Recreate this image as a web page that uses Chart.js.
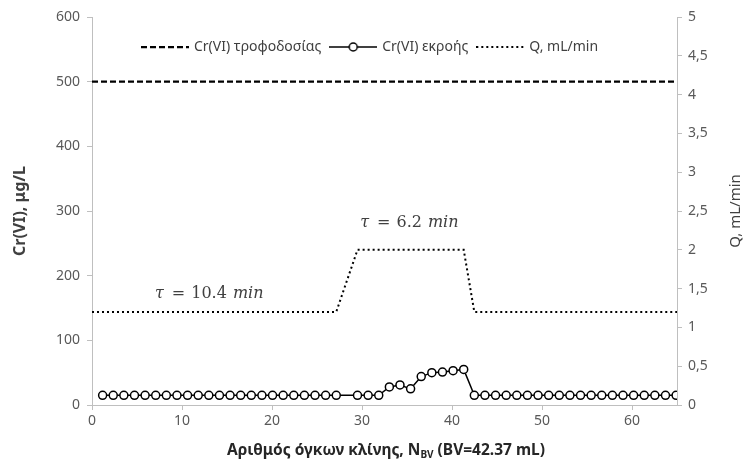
<!DOCTYPE html>
<html><head><meta charset="utf-8">
<script src="https://cdn.jsdelivr.net/npm/chart.js@4.4.1/dist/chart.umd.min.js"></script>
<style>html,body{margin:0;padding:0;background:#fff}#wrap{width:745px;height:466px}</style>
</head><body><div id="wrap"><canvas id="c" width="745" height="466"></canvas></div>
<script>
// ---- data ----
const seriesNames = ['Cr(VI) τροφοδοσίας', 'Cr(VI) εκροής', 'Q, mL/min'];
const bedVolumes = [1.18, 2.36, 3.54, 4.72, 5.90, 7.08, 8.26, 9.44, 10.62, 11.80, 12.98, 14.16, 15.34, 16.52, 17.70, 18.88, 20.06, 21.24, 22.42, 23.60, 24.78, 25.96, 27.14,
  29.50, 30.68, 31.86, 33.04, 34.22, 35.40, 36.58, 37.76, 38.94, 40.12, 41.30, 42.48, 43.66, 44.84, 46.02, 47.20, 48.38, 49.56, 50.74, 51.92, 53.10, 54.28, 55.46, 56.64, 57.82, 59.00, 60.18, 61.36, 62.54, 63.72, 64.90];
const effluentCr = [15, 15, 15, 15, 15, 15, 15, 15, 15, 15, 15, 15, 15, 15, 15, 15, 15, 15, 15, 15, 15, 15, 15,
  15, 15, 15, 28, 31, 25, 44, 50, 51, 53, 55, 15, 15, 15, 15, 15, 15, 15, 15, 15, 15, 15, 15, 15, 15, 15, 15, 15, 15, 15, 15];
const feedX = [0, 65];
const feedCr = [500, 500];
const flowX = [0, 27.14, 29.50, 41.30, 42.48, 65];
const flowQ = [1.2, 1.2, 2.0, 2.0, 1.2, 1.2];
const tauValues = ['10.4', '6.2'];
const yTitle = 'Cr(VI), μg/L';
const y1Title = 'Q, mL/min';
const xTitleParts = ['Αριθμός όγκων κλίνης, N', 'BV', ' (BV=42.37 mL)'];

// ---- styling / placement ----
const FONT = '"Noto Sans", "DejaVu Sans", sans-serif';
const tauPlacement = [{x: 7.0, q: 1.38}, {x: 29.8, q: 2.29}];

function sample(kind) {
  const c = document.createElement('canvas');
  c.width = 48; c.height = 12;
  const g = c.getContext('2d');
  g.strokeStyle = '#000';
  g.beginPath();
  if (kind === 0) { g.lineWidth = 2.25; g.setLineDash([6, 3]); }
  else if (kind === 1) { g.lineWidth = 1.5; }
  else { g.lineWidth = 2; g.setLineDash([2, 3]); }
  g.moveTo(0, 6); g.lineTo(48, 6); g.stroke();
  if (kind === 1) {
    g.setLineDash([]);
    g.beginPath(); g.arc(24, 6, 4, 0, Math.PI * 2);
    g.fillStyle = '#fff'; g.fill(); g.stroke();
  }
  return c;
}
const legendImgs = [sample(0), sample(1), sample(2)];

const annot = {
  id: 'annot',
  afterLayout(chart) {
    // keep the in-plot legend row over the plot area
    const lg = chart.legend, ca = chart.chartArea;
    if (lg && ca) { lg.left = ca.left - 14; lg.right = ca.right - 14; }
  },
  afterDraw(chart) {
    const ctx = chart.ctx, ca = chart.chartArea, xs = chart.scales.x, qs = chart.scales.y1;
    const midY = (ca.top + ca.bottom) / 2;
    ctx.save();
    ctx.textBaseline = 'middle'; ctx.textAlign = 'center';
    ctx.fillStyle = '#404040';
    ctx.font = 'bold 16px ' + FONT;
    ctx.save(); ctx.translate(20, midY); ctx.rotate(-Math.PI / 2); ctx.fillText(yTitle, 0, 0); ctx.restore();
    ctx.font = '15px ' + FONT;
    ctx.save(); ctx.translate(736, midY); ctx.rotate(-Math.PI / 2); ctx.fillText(y1Title, 0, 0); ctx.restore();

    // x title with subscript
    ctx.textAlign = 'left'; ctx.textBaseline = 'alphabetic';
    ctx.fillStyle = '#262626';
    const big = 'bold 15.5px ' + FONT, small = 'bold 10px ' + FONT;
    ctx.font = big; const w1 = ctx.measureText(xTitleParts[0]).width, w3 = ctx.measureText(xTitleParts[2]).width;
    ctx.font = small; const w2 = ctx.measureText(xTitleParts[1]).width;
    let sx = 386 - (w1 + w2 + w3) / 2;
    const by = 455;
    ctx.font = big; ctx.fillText(xTitleParts[0], sx, by);
    ctx.font = small; ctx.fillText(xTitleParts[1], sx + w1, by + 3);
    ctx.font = big; ctx.fillText(xTitleParts[2], sx + w1 + w2, by);

    // tau labels
    ctx.fillStyle = '#404040';
    const it = 'italic 16px "DejaVu Serif", serif', up = '16px "DejaVu Serif", serif';
    tauValues.forEach((v, i) => {
      const p = tauPlacement[i];
      let px = xs.getPixelForValue(p.x), py = qs.getPixelForValue(p.q);
      const parts = [['τ', it, 8], ['=', up, 6], [v, up, 6], ['min', it, 0]];
      parts.forEach(([t, f, gap]) => {
        ctx.font = f; ctx.fillText(t, px, py); px += ctx.measureText(t).width + gap;
      });
    });
    ctx.restore();
  }
};

const axisGray = '#bfbfbf';
const tickFont = {family: FONT, size: 14};

const chart = new Chart(document.getElementById('c'), {
  type: 'line',
  data: {
    datasets: [
      {label: seriesNames[0], data: feedX.map((x, i) => ({x, y: feedCr[i]})), yAxisID: 'y',
        borderColor: '#000', borderWidth: 2.25, borderDash: [6, 3], pointRadius: 0, fill: false},
      {label: seriesNames[1], data: bedVolumes.map((x, i) => ({x, y: effluentCr[i]})), yAxisID: 'y',
        borderColor: '#000', borderWidth: 1.5, pointRadius: 4, pointBorderWidth: 1.5,
        pointBackgroundColor: '#fff', pointBorderColor: '#000', fill: false},
      {label: seriesNames[2], data: flowX.map((x, i) => ({x, y: flowQ[i]})), yAxisID: 'y1',
        borderColor: '#000', borderWidth: 2, borderDash: [2, 3], pointRadius: 0, fill: false}
    ]
  },
  options: {
    responsive: false, animation: false, devicePixelRatio: 1,
    layout: {padding: {top: 17, left: 0, right: 0, bottom: 0}},
    plugins: {
      tooltip: {enabled: false},
      legend: {
        position: 'chartArea', align: 'center',
        title: {display: true, text: ' ', font: {size: 10}, padding: {top: 1, bottom: 0}},
        labels: {
          usePointStyle: true, pointStyleWidth: 44, padding: 10,
          color: '#404040', font: {family: FONT, size: 14},
          generateLabels(chart) {
            const items = Chart.defaults.plugins.legend.labels.generateLabels(chart);
            items.forEach((it, i) => { it.pointStyle = legendImgs[i]; });
            return items;
          }
        }
      }
    },
    scales: {
      x: {
        type: 'linear', min: 0, max: 65,
        afterFit(s) { s.height = 61; },
        grid: {drawOnChartArea: false, tickLength: 5, color: axisGray},
        border: {color: axisGray},
        ticks: {stepSize: 10, includeBounds: false, color: '#595959', font: tickFont, padding: 3, maxRotation: 0}
      },
      y: {
        position: 'left', min: 0, max: 600,
        afterFit(s) { s.width = 92; },
        grid: {drawOnChartArea: false, tickLength: 5, color: axisGray},
        border: {color: axisGray},
        ticks: {stepSize: 100, color: '#595959', font: tickFont, padding: 7}
      },
      y1: {
        position: 'right', min: 0, max: 5,
        afterFit(s) { s.width = 68; },
        grid: {drawOnChartArea: false, tickLength: 5, color: axisGray},
        border: {color: axisGray},
        ticks: {stepSize: 0.5, color: '#595959', font: tickFont, padding: 6,
          callback: v => String(v).replace('.', ',')}
      }
    }
  },
  plugins: [annot]
});
// lay the in-plot legend out as a single horizontal row
chart.legend.isHorizontal = () => true;
chart.update();
</script></body></html>
